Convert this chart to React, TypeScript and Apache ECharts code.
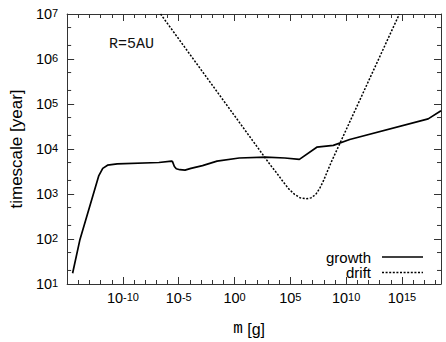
import React, { useEffect, useRef } from 'react';
import * as echarts from 'echarts';

// log10(m [g]) and log10(timescale [year])
const growthLogM = [-14.51, -13.87, -12.16, -11.81, -11.38, -10.51, -6.78, -5.65, -5.56, -5.39, -5.22, -4.9, -4.44, -3.91, -2.87, -1.57, 0.42, 2.77, 4.51, 5.81, 7.37, 8.85, 10.32, 17.35, 18.5];
const growthLogT = [1.24, 1.97, 3.41, 3.57, 3.64, 3.67, 3.7, 3.73, 3.72, 3.61, 3.56, 3.54, 3.53, 3.57, 3.63, 3.73, 3.8, 3.82, 3.8, 3.77, 4.04, 4.08, 4.21, 4.67, 4.85];

const driftLogM = [-6.63, 1.61, 3.2, 3.81, 4.33, 4.86, 5.38, 5.89, 6.42, 6.85, 7.28, 7.63, 7.98, 8.33, 8.67, 14.77];
const driftLogT = [7.0, 4.19, 3.648, 3.456, 3.279, 3.113, 2.991, 2.914, 2.892, 2.914, 2.991, 3.124, 3.301, 3.511, 3.71, 7.0];

const X_MIN = -15;
const X_MAX = 18.5;
const Y_MIN = 1;
const Y_MAX = 7;
const xMajorLabels = [-10, -5, 0, 5, 10, 15];
const yMajorLabels = [1, 2, 3, 4, 5, 6, 7];
const yMinorMantissas = [2, 5];

export default function App() {
  const ref = useRef<HTMLDivElement>(null);
  useEffect(() => {
    const chart = echarts.init(ref.current!, null, { renderer: 'svg' });
    const font = '"Liberation Sans", Arial, Helvetica, sans-serif';
    const mono = '"Liberation Mono", "Courier New", monospace';
    const axisColor = '#333';
    const supRich = {
      b: { fontFamily: font, fontSize: 14.5, color: '#000', lineHeight: 14, padding: [6, 0, 0, 0], verticalAlign: 'bottom' },
      s: { fontFamily: font, fontSize: 11, color: '#000', lineHeight: 11, verticalAlign: 'top' },
    };
    const fmt = (list: number[]) => (v: number) => {
      const n = Math.round(v);
      return Math.abs(v - n) < 1e-6 && list.includes(n) ? `{b|10}{s|${n}}` : '';
    };
    const yMinor: number[][] = [];
    for (let n = Y_MIN; n < Y_MAX; n++) {
      yMinorMantissas.forEach((m) => yMinor.push([X_MIN, n + Math.log10(m)]));
    }
    const baseX = {
      type: 'value', min: X_MIN, max: X_MAX, splitLine: { show: false },
    };
    const baseY = {
      type: 'value', min: Y_MIN, max: Y_MAX, interval: 1, splitLine: { show: false },
    };
    chart.setOption({
      animation: false,
      backgroundColor: '#fff',
      grid: { left: 55, top: 13, right: 5, bottom: 58 },
      xAxis: [
        {
          ...baseX, position: 'bottom', interval: 5,
          axisLine: { show: true, onZero: false, lineStyle: { color: axisColor, width: 1 } },
          axisTick: { show: true, inside: true, length: 7, lineStyle: { color: axisColor } },
          axisLabel: { show: true, margin: 7, formatter: fmt(xMajorLabels), rich: supRich, showMinLabel: false, showMaxLabel: false },
          name: '{m|m} [g]', nameLocation: 'middle', nameGap: 37,
          nameTextStyle: { fontFamily: font, fontSize: 16, color: '#000', padding: [0, 10, 0, 0], rich: { m: { fontFamily: mono, fontSize: 16, color: '#000' } } },
        },
        {
          ...baseX, position: 'bottom', interval: 1,
          axisLine: { show: false, onZero: false },
          axisTick: { show: true, inside: true, length: 4, lineStyle: { color: axisColor } },
          axisLabel: { show: false },
        },
        {
          ...baseX, position: 'top', interval: 5,
          axisLine: { show: true, onZero: false, lineStyle: { color: axisColor, width: 1 } },
          axisTick: { show: true, inside: true, length: 7, lineStyle: { color: axisColor } },
          axisLabel: { show: false },
        },
        {
          ...baseX, position: 'top', interval: 1,
          axisLine: { show: false, onZero: false },
          axisTick: { show: true, inside: true, length: 4, lineStyle: { color: axisColor } },
          axisLabel: { show: false },
        },
      ],
      yAxis: [
        {
          ...baseY, position: 'left',
          axisLine: { show: true, onZero: false, lineStyle: { color: axisColor, width: 1 } },
          axisTick: { show: true, inside: true, length: 7, lineStyle: { color: axisColor } },
          axisLabel: { show: true, margin: 9, formatter: fmt(yMajorLabels), rich: supRich },
          name: 'timescale [year]', nameLocation: 'middle', nameGap: 38,
          nameTextStyle: { fontFamily: font, fontSize: 17, color: '#000' },
        },
        {
          ...baseY, position: 'right',
          axisLine: { show: true, onZero: false, lineStyle: { color: axisColor, width: 1 } },
          axisTick: { show: true, inside: true, length: 7, lineStyle: { color: axisColor } },
          axisLabel: { show: false },
        },
      ],
      series: [
        {
          name: 'growth', type: 'line', xAxisIndex: 0, yAxisIndex: 0,
          data: growthLogM.map((m, i) => [m, growthLogT[i]]),
          symbol: 'none', showSymbol: false, clip: true,
          lineStyle: { color: '#000', width: 1.7 },
        },
        {
          name: 'drift', type: 'line', xAxisIndex: 0, yAxisIndex: 0,
          data: driftLogM.map((m, i) => [m, driftLogT[i]]),
          symbol: 'none', showSymbol: false, clip: true,
          lineStyle: { color: '#000', width: 1.5, type: [2, 1.6] },
        },
        {
          name: 'yMinorTicks', type: 'custom', xAxisIndex: 0, yAxisIndex: 0,
          silent: true, clip: false,
          data: yMinor,
          renderItem: (_p: any, api: any) => {
            const v = api.value(1);
            const l = api.coord([X_MIN, v]);
            const r = api.coord([X_MAX, v]);
            return {
              type: 'group',
              children: [
                { type: 'line', shape: { x1: l[0], y1: l[1], x2: l[0] + 4, y2: l[1] }, style: { stroke: axisColor, lineWidth: 1 } },
                { type: 'line', shape: { x1: r[0] - 4, y1: r[1], x2: r[0], y2: r[1] }, style: { stroke: axisColor, lineWidth: 1 } },
              ],
            };
          },
        },
      ],
      graphic: [
        { type: 'text', x: 109, y: 44, style: { text: 'R=5AU', font: `15px ${mono}`, fill: '#111', align: 'left', verticalAlign: 'middle' } },
        { type: 'text', x: 371, y: 257, style: { text: 'growth', font: `15px ${font}`, fill: '#000', align: 'right', verticalAlign: 'middle' } },
        { type: 'line', shape: { x1: 382, y1: 257, x2: 423, y2: 257 }, style: { stroke: '#000', lineWidth: 1.7 } },
        { type: 'text', x: 371, y: 272.5, style: { text: 'drift', font: `15px ${font}`, fill: '#000', align: 'right', verticalAlign: 'middle' } },
        { type: 'line', shape: { x1: 382, y1: 272.5, x2: 423, y2: 272.5 }, style: { stroke: '#000', lineWidth: 1.5, lineDash: [2, 1.6] } },
      ],
    });
    return () => chart.dispose();
  }, []);
  return <div ref={ref} style={{ position: 'fixed', left: 0, top: 0, width: 446, height: 342 }} />;
}
